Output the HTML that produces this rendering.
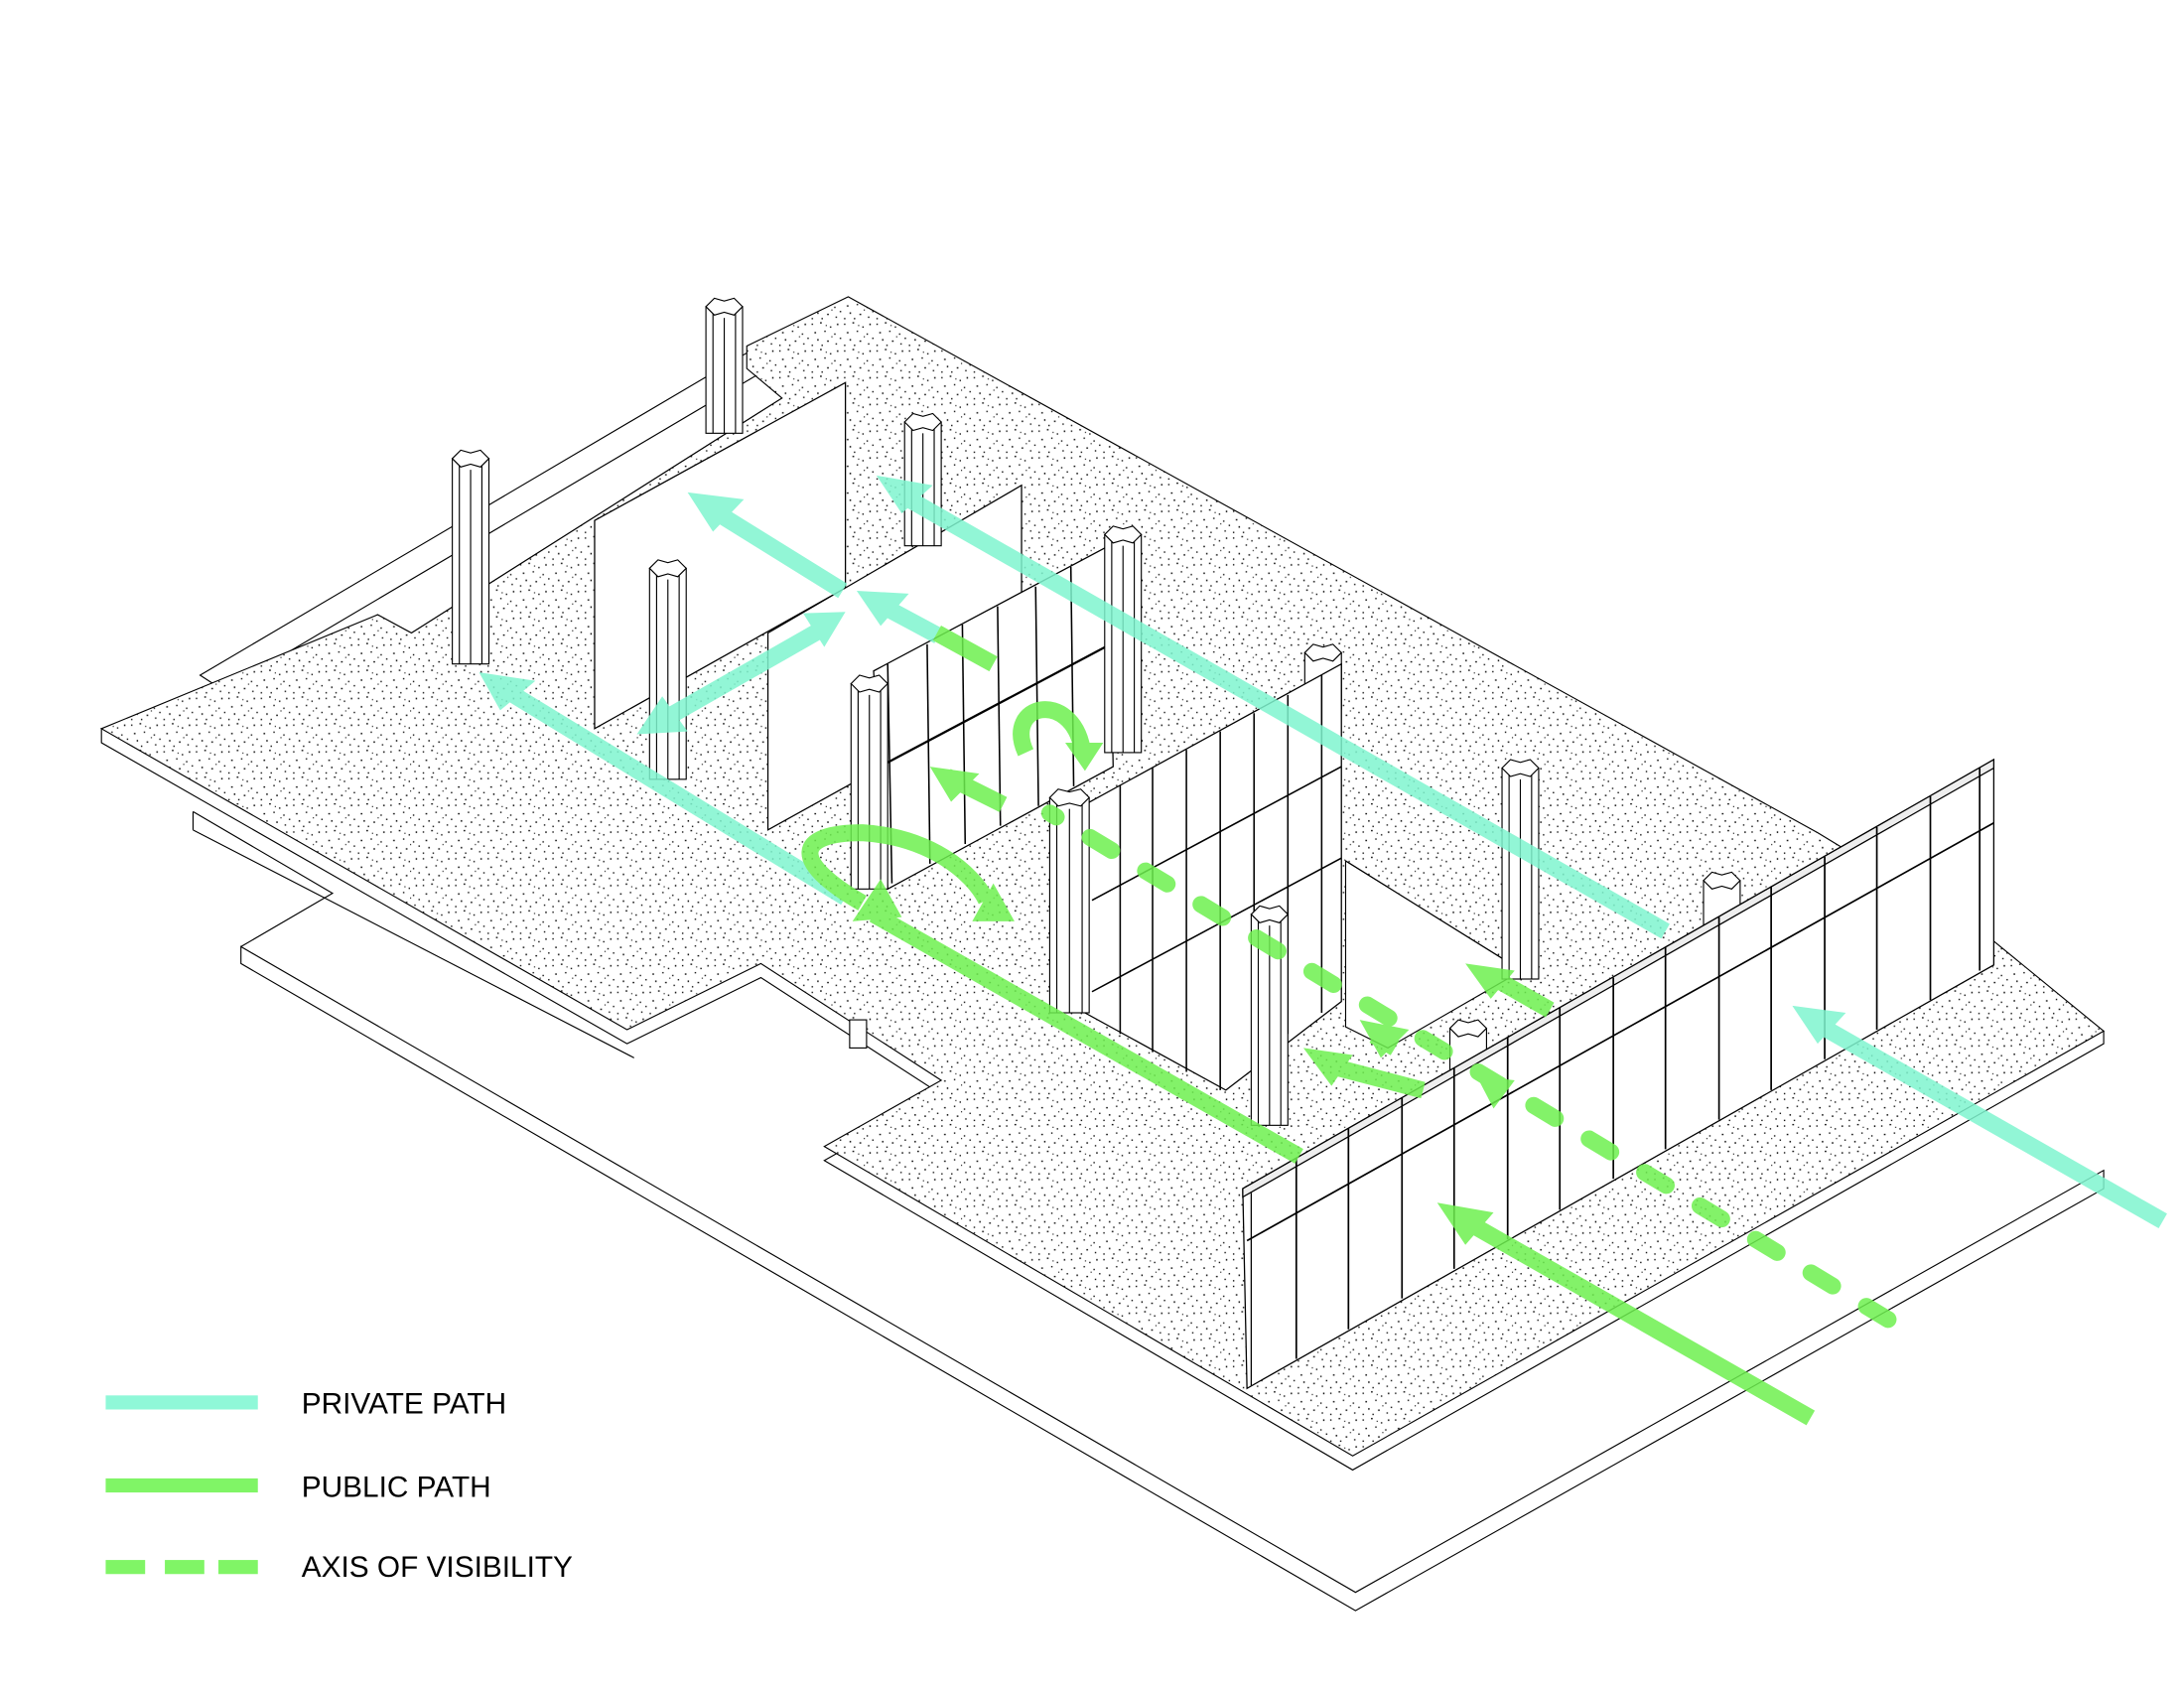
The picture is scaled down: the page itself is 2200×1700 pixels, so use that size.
<!DOCTYPE html>
<html><head><meta charset="utf-8"><style>
html,body{margin:0;padding:0;background:#fff;width:2200px;height:1700px;overflow:hidden}
svg{display:block}
text{font-family:"Liberation Sans",sans-serif}
</style></head><body>
<svg width="2200" height="1700" viewBox="0 0 1550 1200" preserveAspectRatio="none" xmlns="http://www.w3.org/2000/svg">
<defs>
<pattern id="sp" width="23" height="19" patternUnits="userSpaceOnUse">
<rect width="23" height="19" fill="#fff"/>
<g fill="#111">
<rect x="1" y="2" width="1" height="1"/><rect x="7" y="1" width="1.2" height="1"/><rect x="14" y="4" width="1" height="1"/><rect x="19" y="2" width="1" height="1.2"/>
<rect x="3" y="8" width="1.2" height="1"/><rect x="10" y="7" width="1" height="1"/><rect x="17" y="9" width="1" height="1"/><rect x="21" y="12" width="1" height="1"/>
<rect x="5" y="13" width="1" height="1.2"/><rect x="12" y="14" width="1.2" height="1"/><rect x="8" y="17" width="1" height="1"/><rect x="18" y="16" width="1" height="1"/>
<rect x="1" y="17" width="1" height="1"/><rect x="15" y="11" width="0.8" height="0.8"/><rect x="11" y="3" width="0.8" height="0.8"/>
</g>
</pattern>
</defs>
<g fill="none" stroke="#000" stroke-width="0.8">
<!-- lower plates -->
<polygon points="171,673 171,685 962,1145 1493,845 1493,832 962,1132" fill="#fff"/>
<polyline points="137,577 236,635 171,673"/>
<line x1="137" y1="577" x2="137" y2="590"/>
<line x1="137" y1="590" x2="450" y2="752"/>
<!-- back white terrace -->
<polygon points="142,480 540,245 560,262 555,283 292,450 268,437 165,495" fill="#fff"/>
<line x1="160" y1="490" x2="545" y2="262"/>
<!-- slab thickness -->
<polygon points="72,518 72,528 445,742 540,695 668,778 585,825 960,1045 1493,742 1493,733" fill="#fff"/>
<!-- main speckled floor -->
<polygon points="72,518 268,437 292,450 555,283 530,262 530,246 602,211 1290,592 1410,665 1493,733 960,1035 585,815 668,768 540,685 445,732" fill="url(#sp)"/>
<!-- courtyard -->
<polygon points="955,612 1080,690 985,745 955,730" fill="#fff"/>
<line x1="955" y1="612" x2="1080" y2="690"/>
</g>

<!-- partitions -->
<g fill="#fff" stroke="#000" stroke-width="0.9">
<polygon points="422,370 600,272 600,418 422,518"/>
<polygon points="545,450 725,345 725,490 545,590"/>
</g>

<!-- columns -->
<g fill="#fff" stroke="#000" stroke-width="0.8">
<g transform="translate(321,326)"><rect width="26" height="146"/><line x1="5" y1="0" x2="5" y2="146"/><line x1="13" y1="8" x2="13" y2="146"/><line x1="21" y1="0" x2="21" y2="146"/><polygon points="0,0 6,-6 13,-4 20,-6 26,0 20,6 13,4 6,6"/></g>
<g transform="translate(501,218)"><rect width="26" height="90"/><line x1="5" y1="0" x2="5" y2="90"/><line x1="13" y1="8" x2="13" y2="90"/><line x1="21" y1="0" x2="21" y2="90"/><polygon points="0,0 6,-6 13,-4 20,-6 26,0 20,6 13,4 6,6"/></g>
<g transform="translate(642,300)"><rect width="26" height="88"/><line x1="5" y1="0" x2="5" y2="88"/><line x1="13" y1="8" x2="13" y2="88"/><line x1="21" y1="0" x2="21" y2="88"/><polygon points="0,0 6,-6 13,-4 20,-6 26,0 20,6 13,4 6,6"/></g>
<g transform="translate(461,404)"><rect width="26" height="150"/><line x1="5" y1="0" x2="5" y2="150"/><line x1="13" y1="8" x2="13" y2="150"/><line x1="21" y1="0" x2="21" y2="150"/><polygon points="0,0 6,-6 13,-4 20,-6 26,0 20,6 13,4 6,6"/></g>
</g>

<!-- glass wall G1 -->
<g stroke="#000" stroke-width="0.9" fill="#fff">
<polygon points="620,477 787,388 790,545 630,632"/>
<g stroke-width="1.1">
<line x1="630" y1="472" x2="633" y2="628"/><line x1="658" y1="458" x2="660" y2="614"/><line x1="683" y1="444" x2="685" y2="600"/><line x1="708" y1="431" x2="710" y2="587"/><line x1="735" y1="417" x2="737" y2="573"/><line x1="760" y1="403" x2="762" y2="559"/>
<line x1="630" y1="542" x2="790" y2="457" stroke-width="1.6"/>
</g>
</g>
<g fill="#fff" stroke="#000" stroke-width="0.8">
<g transform="translate(784,380)"><rect width="26" height="155"/><line x1="5" y1="0" x2="5" y2="155"/><line x1="13" y1="8" x2="13" y2="155"/><line x1="21" y1="0" x2="21" y2="155"/><polygon points="0,0 6,-6 13,-4 20,-6 26,0 20,6 13,4 6,6"/></g>
<g transform="translate(604,486)"><rect width="26" height="146"/><line x1="5" y1="0" x2="5" y2="146"/><line x1="13" y1="8" x2="13" y2="146"/><line x1="21" y1="0" x2="21" y2="146"/><polygon points="0,0 6,-6 13,-4 20,-6 26,0 20,6 13,4 6,6"/></g>
<g transform="translate(926,464)"><rect width="26" height="40"/><polygon points="0,0 6,-6 13,-4 20,-6 26,0 20,6 13,4 6,6"/></g>
<g transform="translate(1066,546)"><rect width="26" height="150"/><line x1="5" y1="0" x2="5" y2="150"/><line x1="13" y1="8" x2="13" y2="150"/><line x1="21" y1="0" x2="21" y2="150"/><polygon points="0,0 6,-6 13,-4 20,-6 26,0 20,6 13,4 6,6"/></g>
<rect x="603" y="725" width="12" height="20"/>
</g>

<!-- glass wall G2 -->
<g stroke="#000" stroke-width="0.9" fill="#fff">
<polygon points="770,572 952,472 952,712 870,775 770,720"/>
<g stroke-width="1.1">
<line x1="795" y1="558" x2="795" y2="735"/><line x1="818" y1="546" x2="818" y2="748"/><line x1="842" y1="533" x2="842" y2="762"/><line x1="866" y1="520" x2="866" y2="775"/><line x1="890" y1="507" x2="890" y2="755"/><line x1="914" y1="494" x2="914" y2="735"/><line x1="938" y1="480" x2="938" y2="720"/>
<line x1="775" y1="640" x2="952" y2="545"/><line x1="775" y1="705" x2="952" y2="610"/>
</g>
</g>
<g fill="#fff" stroke="#000" stroke-width="0.8">
<g transform="translate(745,567)"><rect width="28" height="153"/><line x1="5" y1="0" x2="5" y2="153"/><line x1="14" y1="8" x2="14" y2="153"/><line x1="23" y1="0" x2="23" y2="153"/><polygon points="0,0 6,-6 14,-4 22,-6 28,0 22,6 14,4 6,6"/></g>
<g transform="translate(888,650)"><rect width="26" height="150"/><line x1="5" y1="0" x2="5" y2="150"/><line x1="13" y1="8" x2="13" y2="150"/><line x1="21" y1="0" x2="21" y2="150"/><polygon points="0,0 6,-6 13,-4 20,-6 26,0 20,6 13,4 6,6"/></g>
<g transform="translate(1209,626)"><rect width="26" height="40"/><polygon points="0,0 6,-6 13,-4 20,-6 26,0 20,6 13,4 6,6"/></g>
<g transform="translate(1029,731)"><rect width="26" height="40"/><polygon points="0,0 6,-6 13,-4 20,-6 26,0 20,6 13,4 6,6"/></g>
</g>

<!-- glass wall G3 -->
<g stroke="#000" fill="#fff" stroke-width="0.9">
<polygon points="882,845 1415,540 1415,686 885,987"/>
<polygon points="882,845 1415,540 1415,546 882,851" fill="#eee"/>
<g stroke-width="1.2">
<line x1="920" y1="823" x2="920" y2="966"/><line x1="957" y1="802" x2="957" y2="945"/><line x1="995" y1="780" x2="995" y2="923"/><line x1="1032" y1="759" x2="1032" y2="902"/><line x1="1070" y1="737" x2="1070" y2="881"/><line x1="1107" y1="716" x2="1107" y2="860"/><line x1="1145" y1="695" x2="1145" y2="838"/><line x1="1182" y1="673" x2="1182" y2="817"/><line x1="1220" y1="652" x2="1220" y2="796"/><line x1="1257" y1="630" x2="1257" y2="775"/><line x1="1295" y1="609" x2="1295" y2="753"/><line x1="1332" y1="588" x2="1332" y2="732"/><line x1="1370" y1="566" x2="1370" y2="711"/><line x1="1405" y1="546" x2="1405" y2="690"/>
<line x1="885" y1="882" x2="1415" y2="585"/>
</g>
<line x1="888" y1="848" x2="888" y2="985"/>
</g>

<!-- paths -->
<g stroke-linecap="butt" fill="none" opacity="0.85">
<g stroke="#7ff5cf" stroke-width="12">
<line x1="1182" y1="662" x2="640" y2="352"/>
<line x1="1535" y1="868" x2="1290" y2="728"/>
<line x1="600" y1="638" x2="358" y2="490"/>
<line x1="598" y1="420" x2="508" y2="364"/>
<line x1="666" y1="452" x2="625" y2="430"/>
<line x1="470" y1="512" x2="582" y2="448"/>
</g>
<g fill="#7ff5cf" stroke="none">
<polygon points="622,338 662,345 640,365"/>
<polygon points="1272,715 1310,720 1290,742"/>
<polygon points="340,478 380,484 355,505"/>
<polygon points="488,350 528,355 506,378"/>
<polygon points="608,420 645,422 625,445"/>
<polygon points="452,522 470,495 488,520"/>
<polygon points="600,435 570,436 585,460"/>
</g>
<g stroke="#6ef04f" stroke-width="12">
<line x1="922" y1="822" x2="620" y2="650"/>
<path d="M612,642 C560,612 565,592 612,592 C660,595 690,620 700,640"/>
<line x1="1285" y1="1008" x2="1040" y2="868"/>
<line x1="1100" y1="718" x2="1058" y2="694"/>
<line x1="990" y1="745" x2="975" y2="736"/>
<line x1="1010" y1="775" x2="945" y2="758"/>
<line x1="712" y1="572" x2="672" y2="552"/>
<path d="M728,535 C712,500 760,490 768,532"/>
<line x1="665" y1="450" x2="705" y2="472"/>
</g>
<g fill="#6ef04f" stroke="none">
<polygon points="605,655 625,625 640,652"/>
<polygon points="720,655 690,655 705,628"/>
<polygon points="1020,855 1060,862 1040,885"/>
<polygon points="1040,685 1075,690 1058,710"/>
<polygon points="965,725 1000,732 980,752"/>
<polygon points="925,745 960,750 945,772"/>
<polygon points="660,545 695,550 675,570"/>
<polygon points="1048,765 1075,768 1060,788"/>
<polygon points="770,548 756,528 783,528"/>
</g>
<g stroke="#6ef04f" stroke-width="12" stroke-linecap="round" stroke-dasharray="18,28">
<line x1="1340" y1="938" x2="745" y2="578"/>
</g>
</g>

<!-- legend -->
<rect x="75" y="992" width="108" height="10" fill="#8ff8d8"/>
<rect x="75" y="1051" width="108" height="10" fill="#80f566"/>
<rect x="75" y="1109" width="28" height="10" fill="#80f566"/>
<rect x="117" y="1109" width="28" height="10" fill="#80f566"/>
<rect x="155" y="1109" width="28" height="10" fill="#80f566"/>
<g font-size="21" fill="#000">
<text x="214" y="1005">PRIVATE PATH</text>
<text x="214" y="1064">PUBLIC PATH</text>
<text x="214" y="1121">AXIS OF VISIBILITY</text>
</g>
</svg>
</body></html>
